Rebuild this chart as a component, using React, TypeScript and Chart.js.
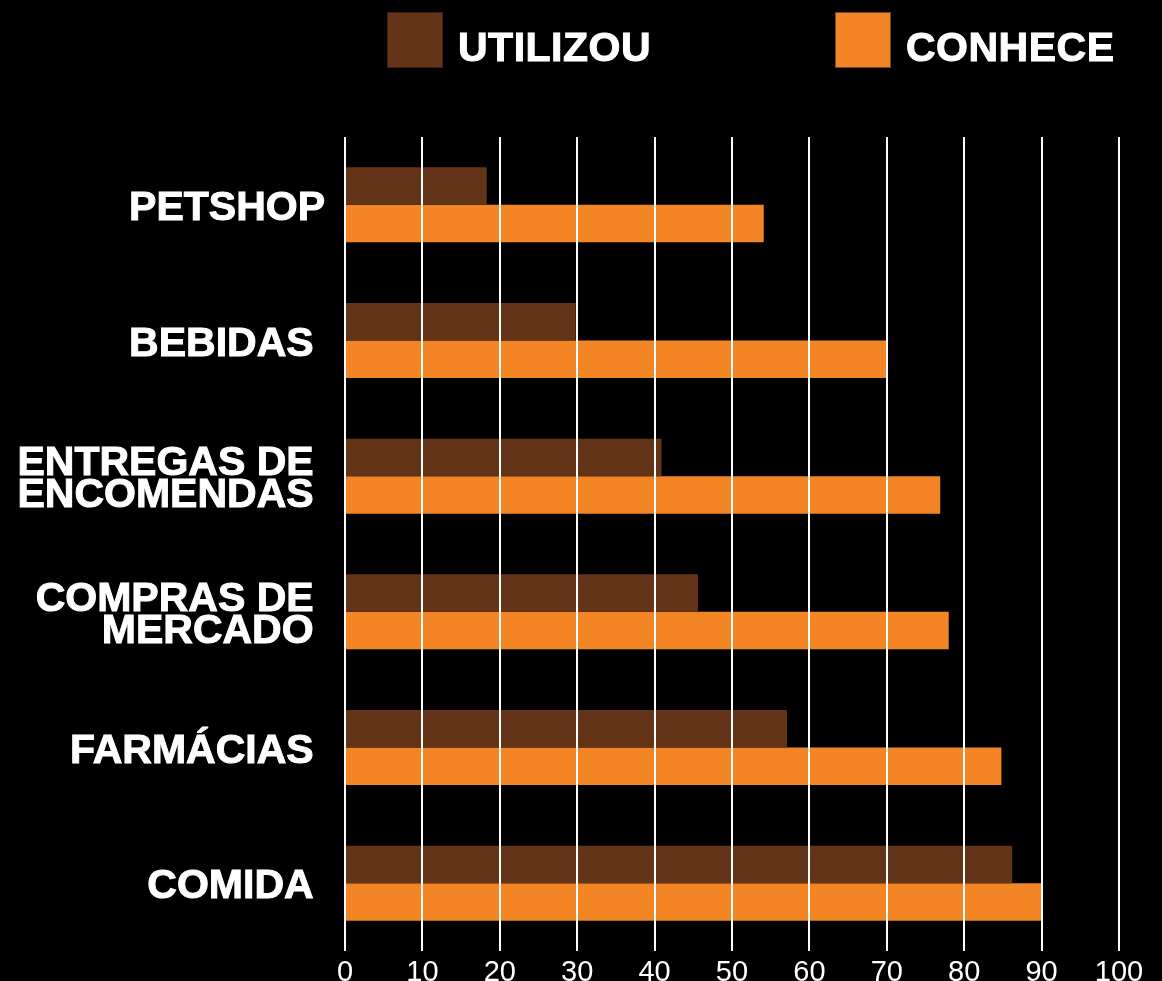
import { useEffect, useRef } from 'react';
import { Chart, registerables } from 'chart.js';

Chart.register(...registerables);

const categories: (string | string[])[] = [
  'PETSHOP',
  'BEBIDAS ',
  ['ENTREGAS DE ', 'ENCOMENDAS '],
  ['COMPRAS DE ', 'MERCADO '],
  'FARMÁCIAS ',
  'COMIDA ',
];
const seriesNames = ['UTILIZOU', 'CONHECE'];
const utilizou = [18.3, 29.8, 40.9, 45.6, 57.1, 86.2];
const conhece = [54.1, 70.0, 76.9, 78.0, 84.8, 90.0];
const seriesColors = ['#633418', '#F48524'];
const xMin = 0;
const xMax = 100;
const xStep = 10;

const FONT = '"Liberation Sans", Arial, Helvetica, sans-serif';

const legendPlugin = {
  id: 'topLegend',
  afterDraw(chart: any) {
    const ctx = chart.ctx as CanvasRenderingContext2D;
    const xs = [387, 835];
    ctx.save();
    chart.data.datasets.forEach((ds: any, i: number) => {
      const x = xs[i];
      ctx.fillStyle = ds.backgroundColor;
      ctx.fillRect(x, 12, 56, 56);
      ctx.strokeStyle = 'rgba(40,20,10,0.6)';
      ctx.lineWidth = 1;
      ctx.strokeRect(x + 0.5, 12.5, 55, 55);
      ctx.fillStyle = '#ffffff';
      ctx.strokeStyle = '#ffffff';
      ctx.lineWidth = 1;
      ctx.font = `bold 41px ${FONT}`;
      (ctx as any).letterSpacing = '0.5px';
      ctx.textBaseline = 'middle';
      ctx.textAlign = 'left';
      ctx.fillText(ds.label, x + 71, 50);
      ctx.strokeText(ds.label, x + 71, 50);
    });
    ctx.restore();
  },
};

export default function App() {
  const ref = useRef<HTMLCanvasElement | null>(null);

  useEffect(() => {
    document.body.style.margin = '0';
    document.body.style.background = '#000';
    const canvas = ref.current!;
    const chart = new Chart(canvas, {
      type: 'bar',
      data: {
        labels: categories as any,
        datasets: [
          {
            label: seriesNames[0],
            data: utilizou,
            backgroundColor: seriesColors[0],
            categoryPercentage: 0.553,
            barPercentage: 1.0,
          },
          {
            label: seriesNames[1],
            data: conhece,
            backgroundColor: seriesColors[1],
            categoryPercentage: 0.553,
            barPercentage: 1.0,
          },
        ],
      },
      options: {
        indexAxis: 'y',
        responsive: false,
        animation: false,
        layout: { padding: { top: 137, right: 43, left: 0, bottom: 0 } },
        plugins: {
          legend: { display: false },
          tooltip: { enabled: false },
        },
        scales: {
          x: {
            min: xMin,
            max: xMax,
            ticks: {
              stepSize: xStep,
              color: '#ffffff',
              font: { family: FONT, size: 29 },
              padding: 5,
            },
            grid: {
              color: '#ffffff',
              lineWidth: 2,
              drawTicks: false,
              z: 1,
            },
            border: { display: false },
            afterFit(scale: any) {
              scale.height = 30;
              scale.paddingLeft = 0;
              scale.paddingRight = 0;
            },
          },
          y: {
            ticks: {
              color: '#ffffff',
              font: { family: FONT, size: 41, weight: 'bold', lineHeight: 0.78 },
              padding: 20,
              labelOffset: 4,
              textStrokeColor: '#ffffff',
              textStrokeWidth: 1,
            },
            grid: { display: false, drawTicks: false },
            border: { display: false },
            afterFit(scale: any) {
              scale.width = 345;
              scale.paddingTop = 0;
              scale.paddingBottom = 0;
            },
          },
        },
      },
      plugins: [legendPlugin],
    });
    return () => chart.destroy();
  }, []);

  return (
    <div style={{ position: 'fixed', left: 0, top: 0, width: 1162, height: 981, background: '#000' }}>
      <canvas ref={ref} width={1162} height={981} />
    </div>
  );
}
